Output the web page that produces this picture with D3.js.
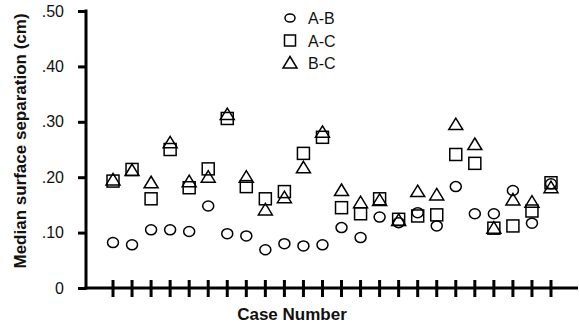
<!DOCTYPE html>
<html lang="en">
  <head>
    <meta charset="UTF-8" />
    <title>Median surface separation</title>
    <script src="https://d3js.org/d3.v7.min.js"></script>
    <style>
      body {
        margin: 0;
        background: #fff;
        font-family: "Liberation Sans", Arial, sans-serif;
      }
    </style>
  </head>
  <body>
    <svg id="chart" width="579" height="324"></svg>

    <script>
      // values, one per case (1..24)
      const cases = d3.range(1, 25);
      const seriesAB = [
        0.082, 0.078, 0.105, 0.105, 0.102, 0.148, 0.098, 0.094, 0.069, 0.08,
        0.076, 0.078, 0.109, 0.091, 0.128, 0.118, 0.136, 0.112, 0.183, 0.134,
        0.134, 0.176, 0.117, 0.188,
      ];
      const seriesAC = [
        0.193, 0.214, 0.161, 0.25, 0.181, 0.215, 0.306, 0.183, 0.161, 0.174,
        0.243, 0.272, 0.145, 0.134, 0.161, 0.124, 0.13, 0.132, 0.241, 0.225,
        0.108, 0.112, 0.139, 0.19,
      ];
      const seriesBC = [
        0.195, 0.212, 0.19, 0.262, 0.192, 0.2, 0.313, 0.2, 0.141, 0.163,
        0.217, 0.281, 0.176, 0.154, 0.158, 0.122, 0.174, 0.168, 0.295, 0.259,
        0.108, 0.159, 0.155, 0.181,
      ];
      const yTicks = [0, 0.1, 0.2, 0.3, 0.4, 0.5];
      const legendLabels = ["A-B", "A-C", "B-C"];

      const svg = d3.select("#chart");
      const margin = { top: 11, right: 1, bottom: 36, left: 86 };
      const width = +svg.attr("width") - margin.left - margin.right;
      const height = +svg.attr("height") - margin.top - margin.bottom;

      const g = svg
        .append("g")
        .attr("transform", `translate(${margin.left},${margin.top})`);

      const x = d3.scalePoint().domain(cases).range([27, 465]);
      const y = d3.scaleLinear().domain([0, 0.5]).range([height, 0]);

      const fmt = (d) => (d === 0 ? "0" : d3.format(".2f")(d).replace(/^0/, ""));

      // y axis
      const yAxis = g
        .append("g")
        .call(d3.axisLeft(y).tickValues(yTicks).tickSize(8).tickFormat(fmt));
      yAxis.select(".domain").remove();
      yAxis
        .selectAll(".tick line")
        .attr("stroke", "#000")
        .attr("stroke-width", 3);
      yAxis
        .selectAll(".tick text")
        .attr("x", -22)
        .attr("font-size", 16)
        .attr("font-family", "Liberation Sans, Arial, sans-serif")
        .attr("fill", "#111");
      g.append("line")
        .attr("x1", 0)
        .attr("x2", 0)
        .attr("y1", y(0.5) - 1.5)
        .attr("y2", height + 1.5)
        .attr("stroke", "#000")
        .attr("stroke-width", 3);

      // x axis with crossing ticks
      g.append("line")
        .attr("x1", -1.5)
        .attr("x2", width)
        .attr("y1", height)
        .attr("y2", height)
        .attr("stroke", "#000")
        .attr("stroke-width", 3);
      g.append("g")
        .selectAll("line")
        .data(cases)
        .join("line")
        .attr("x1", (d) => x(d))
        .attr("x2", (d) => x(d))
        .attr("y1", height - 8)
        .attr("y2", height + 9)
        .attr("stroke", "#000")
        .attr("stroke-width", 3);

      // axis titles
      svg
        .append("text")
        .attr("transform", `translate(26,${margin.top + 130}) rotate(-90)`)
        .attr("text-anchor", "middle")
        .attr("font-weight", "bold")
        .attr("font-size", 17)
        .attr("fill", "#111")
        .text("Median surface separation (cm)");
      svg
        .append("text")
        .attr("x", 292)
        .attr("y", 320)
        .attr("text-anchor", "middle")
        .attr("font-weight", "bold")
        .attr("font-size", 17)
        .attr("fill", "#111")
        .text("Case Number");

      // marker shapes
      const shapes = {
        circle: (sel) =>
          sel.append("ellipse").attr("rx", 5.5).attr("ry", 5),
        square: (sel) =>
          sel
            .append("rect")
            .attr("x", -6)
            .attr("y", -6)
            .attr("width", 12)
            .attr("height", 12),
        triangle: (sel) =>
          sel.append("path").attr("d", "M0,-6.5L7,5L-7,5Z"),
      };

      function drawSeries(values, shape) {
        const pts = g
          .append("g")
          .selectAll("g")
          .data(values)
          .join("g")
          .attr("transform", (d, i) => `translate(${x(cases[i])},${y(d)})`);
        pts.each(function () {
          shapes[shape](d3.select(this))
            .attr("fill", "none")
            .attr("stroke", "#000")
            .attr("stroke-width", 1.5);
        });
      }

      drawSeries(seriesAC, "square");
      drawSeries(seriesBC, "triangle");
      drawSeries(seriesAB, "circle");

      // legend
      const legend = svg
        .append("g")
        .selectAll("g")
        .data(legendLabels)
        .join("g")
        .attr("transform", (d, i) => `translate(290,${18 + i * 22.5})`);
      legend.each(function (d, i) {
        const s = d3.select(this);
        const shape = ["circle", "square", "triangle"][i];
        const m = shapes[shape](s)
          .attr("fill", "none")
          .attr("stroke", "#000")
          .attr("stroke-width", 1.5);
        if (shape === "circle") m.attr("rx", 5).attr("ry", 4);
        if (shape === "square") m.attr("x", -5.5).attr("y", -5.5).attr("width", 11).attr("height", 11);
        s.append("text")
          .attr("x", 18)
          .attr("y", 6)
          .attr("font-size", 16)
          .attr("fill", "#111")
          .text(d);
      });
    </script>
  </body>
</html>
